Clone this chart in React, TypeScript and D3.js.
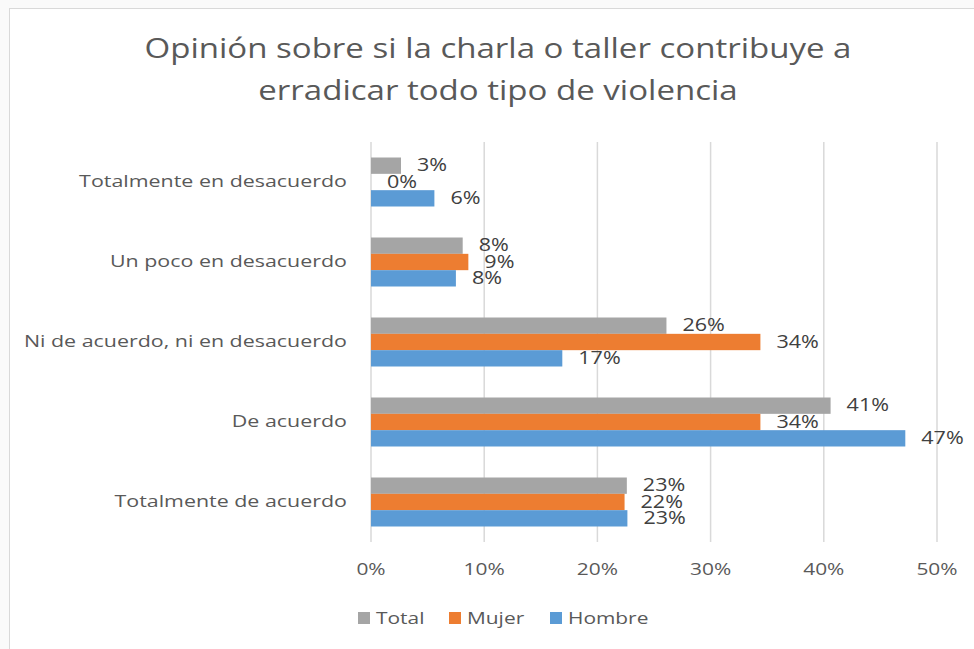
import { useEffect, useRef } from 'react';
import * as d3 from 'd3';

const categories = [
  'Totalmente en desacuerdo',
  'Un poco en desacuerdo',
  'Ni de acuerdo, ni en desacuerdo',
  'De acuerdo',
  'Totalmente de acuerdo',
];
const seriesNames = ['Total', 'Mujer', 'Hombre'];
const seriesColors = ['#a5a5a5', '#ed7d31', '#5b9bd5'];
// percentages, same order as categories
const totalValues = [2.65, 8.1, 26.1, 40.6, 22.6];
const mujerValues = [0, 8.6, 34.4, 34.4, 22.4];
const hombreValues = [5.6, 7.5, 16.9, 47.2, 22.65];
const xTicks = [0, 10, 20, 30, 40, 50];
const titleLines = [
  'Opinión sobre si la charla o taller contribuye a',
  'erradicar todo tipo de violencia',
];

const W = 974;
const H = 649;
const FONT = '"Open Sans", "Noto Sans", sans-serif';
// the source picture is stretched sideways, so text is too
const SX = 1.23;
const at = (px: number, py: number, sx = SX) => `translate(${px},${py}) scale(${sx},1)`;

export default function App() {
  const svgRef = useRef<SVGSVGElement>(null);

  useEffect(() => {
    if (!svgRef.current) return;
    const svg = d3.select(svgRef.current);
    svg.selectAll('*').remove();
    svg.attr('width', W).attr('height', H).attr('font-family', FONT);

    const values = [totalValues, mujerValues, hombreValues];

    // page + chart frame
    svg.append('rect').attr('width', W).attr('height', H).attr('fill', '#fafafa');
    svg.append('rect')
      .attr('x', 9.5).attr('y', 8.5)
      .attr('width', W + 10).attr('height', H + 10)
      .attr('fill', '#fff')
      .attr('stroke', '#d9d9d9');

    // title
    svg.append('g')
      .selectAll('text')
      .data(titleLines)
      .join('text')
      .attr('transform', (_, i) => at(498, 51 + i * 42, 1.18))
      .attr('text-anchor', 'middle')
      .attr('dominant-baseline', 'middle')
      .attr('font-size', 28)
      .attr('fill', '#595959')
      .text((d) => d);

    const x = d3.scaleLinear().domain([0, 50]).range([371, 937]);
    const y = d3.scaleBand().domain(categories).range([142, 542])
      .paddingInner(0.3875).paddingOuter(0.19375);
    const ySub = d3.scaleBand().domain(seriesNames).range([0, y.bandwidth()]);

    // gridlines
    svg.append('g')
      .selectAll('line')
      .data(xTicks)
      .join('line')
      .attr('x1', (d) => x(d)).attr('x2', (d) => x(d))
      .attr('y1', 142).attr('y2', 542)
      .attr('stroke', '#d9d9d9')
      .attr('stroke-width', 1.5);

    // x tick labels
    svg.append('g')
      .selectAll('text')
      .data(xTicks)
      .join('text')
      .attr('transform', (d) => at(x(d), 570))
      .attr('text-anchor', 'middle')
      .attr('dominant-baseline', 'middle')
      .attr('font-size', 17)
      .attr('fill', '#595959')
      .text((d) => `${d}%`);

    // category labels
    svg.append('g')
      .selectAll('text')
      .data(categories)
      .join('text')
      .attr('transform', (d) => at(347, (y(d) ?? 0) + y.bandwidth() / 2, 1.26))
      .attr('text-anchor', 'end')
      .attr('dominant-baseline', 'middle')
      .attr('font-size', 17)
      .attr('fill', '#595959')
      .text((d) => d);

    // bars + labels
    seriesNames.forEach((s, si) => {
      const rows = categories.map((c, ci) => ({ c, v: values[si][ci] }));
      const g = svg.append('g');
      g.selectAll('rect')
        .data(rows)
        .join('rect')
        .attr('x', x(0))
        .attr('y', (d) => (y(d.c) ?? 0) + (ySub(s) ?? 0))
        .attr('width', (d) => x(d.v) - x(0))
        .attr('height', ySub.bandwidth())
        .attr('fill', seriesColors[si]);
      g.selectAll('text')
        .data(rows)
        .join('text')
        .attr('transform', (d) =>
          at(x(d.v) + 16, (y(d.c) ?? 0) + (ySub(s) ?? 0) + ySub.bandwidth() / 2 + 1))
        .attr('dominant-baseline', 'middle')
        .attr('font-size', 17.5)
        .attr('fill', '#404040')
        .text((d) => `${Math.round(d.v)}%`);
    });

    // legend
    const legendX = [358, 449, 550];
    const legend = svg.append('g')
      .selectAll('g')
      .data(seriesNames)
      .join('g')
      .attr('transform', (_, i) => `translate(${legendX[i]},618)`);
    legend.append('rect')
      .attr('x', 0).attr('y', -6)
      .attr('width', 12).attr('height', 12)
      .attr('fill', (_, i) => seriesColors[i]);
    legend.append('text')
      .attr('transform', at(18, 1))
      .attr('dominant-baseline', 'middle')
      .attr('font-size', 17)
      .attr('fill', '#595959')
      .text((d) => d);
  }, []);

  return (
    <div style={{ position: 'absolute', left: 0, top: 0 }}>
      <style>{'body{margin:0}'}</style>
      <svg ref={svgRef} style={{ display: 'block' }} />
    </div>
  );
}
